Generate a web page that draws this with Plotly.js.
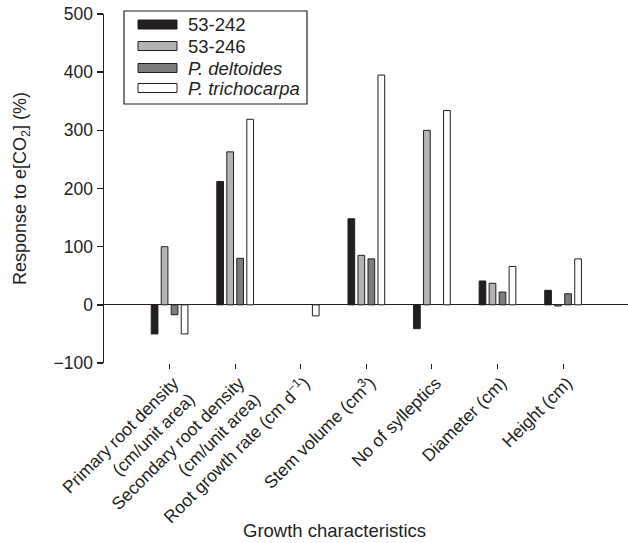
<!DOCTYPE html>
<html>
<head>
<meta charset="utf-8">
<script src="https://cdn.plot.ly/plotly-3.0.1.min.js"></script>
<style>html,body{margin:0;padding:0;background:#fff}#chart{width:628px;height:543px}</style>
</head>
<body>
<div id="chart"></div>
<script>
var categories = [
  "Primary root density<br>(cm/unit area)",
  "Secondary root density<br>(cm/unit area)",
  "Root growth rate (cm d<sup>\u22121</sup>)",
  "Stem volume (cm<sup>3</sup>)",
  "No of sylleptics",
  "Diameter (cm)",
  "Height (cm)"
];
var seriesNames = ["53-242", "53-246", "P. deltoides", "P. trichocarpa"];
var legendLabels = ["53-242", "53-246", "<i>P. deltoides</i>", "<i>P. trichocarpa</i>"];
var s53_242 = [-50, 212, null, 148, -41, 41, 25];
var s53_246 = [100, 263, null, 85, 300, 37, -2];
var sDeltoides = [-17, 80, null, 79, null, 22, 19];
var sTrichocarpa = [-50, 319, -19, 395, 334, 66, 79];
var yTicks = [-100, 0, 100, 200, 300, 400, 500];
var yTickText = ["\u2212100", "0", "100", "200", "300", "400", "500"];
var xTitle = "Growth characteristics";
var yTitle = "Response to e[CO<sub>2</sub>] (%)";

var colors = ["#231f20", "#b3b3b3", "#7d7d7d", "#ffffff"];
var allSeries = [s53_242, s53_246, sDeltoides, sTrichocarpa];
var xIdx = categories.map(function(c, i){ return i; });

var traces = allSeries.map(function(vals, k){
  return {
    type: "bar",
    name: seriesNames[k],
    x: xIdx,
    y: vals,
    marker: {color: colors[k], line: {color: "#231f20", width: 1}},
    showlegend: false,
    hoverinfo: "y+name"
  };
});

var font = "Liberation Sans, Arial, Helvetica, sans-serif";
var W = 628, H = 543, L = 104, R = 0, T = 14, B = 180;
function px(x){ return (x - L) / (W - L - R); }
function py(y){ return (H - B - y) / (H - T - B); }

var shapes = [{
  type: "rect", xref: "paper", yref: "paper",
  x0: px(124), x1: px(307), y0: py(104), y1: py(11),
  line: {color: "#231f20", width: 1.2}, fillcolor: "#ffffff", layer: "above"
}];
var annotations = [];
var rowsY = [24.5, 46, 68, 88];
for (var k = 0; k < seriesNames.length; k++) {
  shapes.push({
    type: "rect", xref: "paper", yref: "paper",
    x0: px(138), x1: px(177), y0: py(rowsY[k] + 4.5), y1: py(rowsY[k] - 4.5),
    line: {color: "#231f20", width: 1}, fillcolor: colors[k], layer: "above"
  });
  annotations.push({
    xref: "paper", yref: "paper", x: px(186), y: py(rowsY[k]),
    xanchor: "left", yanchor: "middle", showarrow: false,
    text: legendLabels[k], font: {family: font, size: 18.5, color: "#231f20"}
  });
}
annotations.push({
  xref: "paper", yref: "paper", x: px(334), y: py(530),
  xanchor: "center", yanchor: "middle", showarrow: false,
  text: xTitle, font: {family: font, size: 18.5, color: "#231f20"}
});

var layout = {
  width: W, height: H,
  margin: {l: L, r: R, t: T, b: B, pad: 0},
  paper_bgcolor: "#ffffff", plot_bgcolor: "#ffffff",
  barmode: "group", bargap: 0.39, bargroupgap: 0.33,
  font: {family: font, size: 17, color: "#231f20"},
  xaxis: {
    range: [-1, 6.99],
    tickmode: "array", tickvals: xIdx, ticktext: categories,
    tickangle: -45, ticks: "outside", ticklen: 5, tickcolor: "#231f20", tickwidth: 1,
    ticklabelstandoff: -3, ticklabelshift: 4,
    showline: false, showgrid: false, zeroline: false,
    tickfont: {family: font, size: 17.5, color: "#231f20"},
    automargin: false
  },
  yaxis: {
    range: [-100, 500],
    tickmode: "array", tickvals: yTicks, ticktext: yTickText,
    ticks: "outside", ticklen: 6, tickcolor: "#231f20", tickwidth: 1.5,
    showline: true, linecolor: "#231f20", linewidth: 1.5,
    showgrid: false, zeroline: true, zerolinecolor: "#231f20", zerolinewidth: 1.2,
    tickfont: {family: font, size: 17.5, color: "#231f20"},
    title: {text: yTitle, font: {family: font, size: 18, color: "#231f20"}, standoff: 22},
    automargin: false
  },
  shapes: shapes,
  annotations: annotations
};

Plotly.newPlot("chart", traces, layout, {displayModeBar: false, staticPlot: true});
</script>
</body>
</html>
